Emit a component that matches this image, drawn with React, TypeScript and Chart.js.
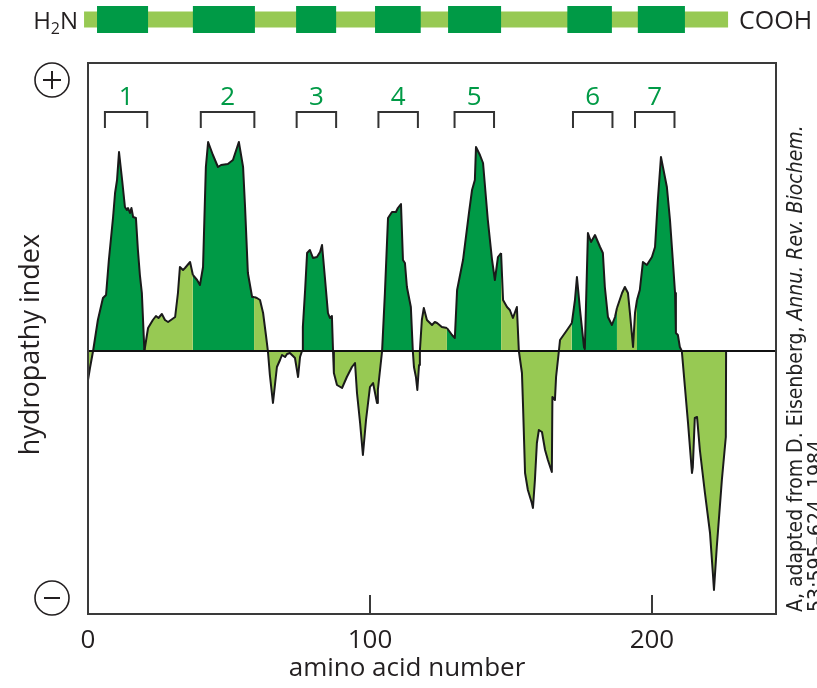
import React, { useEffect, useRef } from 'react';
import { Chart, registerables } from 'chart.js';

Chart.register(...registerables);

// ---- data ----
const residue = [
  0.0, 0.7, 1.8, 3.5, 5.3, 6.4, 7.4, 8.9, 9.6, 10.3,
  11.0, 12.1, 13.1, 13.8, 14.2, 14.9, 15.4, 16.0, 17.0, 17.7,
  18.4, 19.1, 20.0, 21.3, 23.0, 24.1, 25.0, 26.2, 27.3, 28.4,
  30.9, 31.9, 32.6, 33.7, 34.4, 36.2, 37.2, 38.7, 39.7, 40.8,
  41.8, 42.6, 44.3, 46.1, 47.2, 49.6, 51.4, 53.5, 55.0, 55.7,
  56.7, 58.2, 58.9, 59.9, 61.0, 62.1, 63.1, 63.8, 64.5, 65.6,
  66.3, 67.0, 68.1, 68.8, 69.9, 70.6, 71.6, 72.7, 73.4, 74.5,
  75.2, 75.9, 76.2, 77.0, 77.7, 78.7, 79.8, 81.2, 82.3, 83.0,
  84.0, 85.1, 85.8, 86.5, 86.9, 87.2, 88.3, 90.1, 91.8, 93.6,
  94.7, 95.4, 96.5, 97.5, 98.6, 100.0, 101.1, 102.5, 102.8, 104.3,
  105.3, 106.4, 107.8, 109.2, 109.9, 111.0, 111.7, 112.4, 113.1, 114.5,
  115.2, 115.6, 116.3, 116.8, 117.4, 117.7, 118.4, 119.1, 120.2, 122.0,
  123.0, 123.8, 125.5, 127.3, 129.1, 130.1, 130.9, 133.0, 135.1, 136.2,
  137.2, 137.6, 139.0, 140.1, 141.8, 143.3, 144.3, 145.4, 146.5, 147.2,
  148.6, 149.6, 150.7, 152.1, 152.8, 153.9, 154.3, 155.0, 156.0, 157.4,
  157.8, 158.5, 159.2, 159.9, 161.0, 162.1, 163.1, 164.5, 164.7, 165.6,
  166.0, 167.0, 167.4, 169.9, 171.6, 172.7, 173.4, 174.5, 175.9, 176.2,
  177.3, 178.4, 179.8, 181.6, 182.6, 183.3, 184.4, 185.8, 186.9, 187.6,
  189.4, 190.4, 191.5, 192.2, 193.3, 194.0, 194.7, 195.7, 196.8, 198.2,
  200.0, 201.1, 202.1, 203.2, 203.9, 205.3, 206.4, 207.4, 208.2, 208.5,
  209.2, 209.9, 210.6, 211.7, 212.8, 214.2, 214.5, 215.2, 216.0, 217.0,
  218.8, 220.6, 221.6, 222.0, 223.0, 224.8, 226.2, 226.3,
];

const hydropathy = [
  -0.29, -0.17, 0, 0.31, 0.53, 0.56, 0.91, 1.34, 1.58, 1.71,
  1.99, 1.71, 1.44, 1.41, 1.43, 1.38, 1.43, 1.34, 1.33, 1.01,
  0.76, 0.58, 0, 0.23, 0.31, 0.35, 0.33, 0.37, 0.31, 0.29,
  0.34, 0.58, 0.84, 0.81, 0.83, 0.89, 0.76, 0.71, 0.66, 0.84,
  1.84, 2.09, 1.96, 1.84, 1.86, 1.87, 1.91, 2.09, 1.84, 1.44,
  0.78, 0.54, 0.54, 0.53, 0.51, 0.38, 0.16, 0, -0.24, -0.52,
  -0.34, -0.16, -0.09, -0.04, -0.06, -0.03, -0.02, -0.05, -0.07, -0.26,
  -0.06, 0, 0.24, 0.61, 0.98, 1.01, 0.93, 0.94, 0.99, 1.06,
  0.74, 0.38, 0.33, 0.35, 0, -0.22, -0.34, -0.37, -0.26, -0.16,
  -0.12, -0.42, -0.72, -1.04, -0.69, -0.36, -0.32, -0.52, -0.39, 0,
  0.58, 1.33, 1.39, 1.39, 1.43, 1.47, 0.91, 0.88, 0.64, 0.44,
  0, -0.16, -0.26, -0.39, -0.14, 0, 0.31, 0.43, 0.31, 0.26,
  0.29, 0.28, 0.24, 0.23, 0.16, 0.13, 0.61, 0.91, 1.38, 1.61,
  1.71, 2.04, 1.96, 1.88, 1.31, 0.91, 0.71, 0.94, 0.98, 0.51,
  0.44, 0.41, 0.33, 0.44, 0, -0.22, -0.56, -1.22, -1.39, -1.52,
  -1.57, -1.29, -0.92, -0.79, -0.81, -0.99, -1.09, -1.21, -0.46, -0.49,
  -0.26, 0, 0.11, 0.21, 0.28, 0.51, 0.74, 0.41, 0.04, 0.02,
  1.18, 1.09, 1.16, 1.04, 0.98, 0.64, 0.34, 0.26, 0.34, 0.43,
  0.58, 0.64, 0.58, 0.38, 0.04, 0.38, 0.51, 0.61, 0.89, 0.86,
  0.94, 1.04, 1.51, 1.94, 1.84, 1.64, 1.31, 0.91, 0.58, 0.18,
  0.16, 0.04, 0, -0.36, -0.72, -1.22, -1.16, -0.67, -0.66, -0.99,
  -1.42, -1.82, -2.22, -2.39, -1.96, -1.29, -0.86, 0,
];

const xTickValues = [0, 100, 200];
const xMin = 0;
const xMax = 244;
const yMin = -2.63;
const yMax = 2.88;

const segmentLabels = ['1', '2', '3', '4', '5', '6', '7'];
const bracketStart = [6, 40, 74, 103, 130, 172, 194];
const bracketEnd = [21, 59, 88, 117, 144, 186, 208];

const helixFillStart = [1.8, 37.2, 75.9, 104.3, 127.3, 171.6, 194.7];
const helixFillEnd = [20.0, 58.9, 86.9, 115.2, 146.5, 187.6, 210.6];

const helixBoxStart = [3.2, 37.2, 73.8, 101.8, 127.7, 170.0, 195.0];
const helixBoxEnd = [21.3, 59.2, 88.0, 118.0, 146.5, 185.8, 211.7];
const chainStart = -1.4;
const chainEnd = 227;

const xTitle = 'amino acid number';
const yTitle = 'hydropathy index';
const citeRegular = 'A, adapted from D. Eisenberg, ';
const citeItalic = 'Annu. Rev. Biochem.';
const citeLine2 = '53:595–624, 1984.';

// ---- styles ----
const DARK = '#009a46';
const LIGHT = '#97c953';
const INK = '#231f20';
const FONT = '"Open Sans", "Noto Sans", sans-serif';
const CITE_FONT = '"Liberation Sans Narrow", "DejaVu Sans Condensed", "Liberation Sans", sans-serif';

const inHelix = (a: number, b: number) =>
  helixFillStart.some((s, i) => a >= s - 1e-6 && b <= helixFillEnd[i] + 1e-6);

const decorPlugin = {
  id: 'decor',
  afterDatasetsDraw(chart: any) {
    const { ctx, chartArea: a, scales } = chart;
    const x = scales.x;
    const y = scales.y;
    ctx.save();
    // zero line
    const y0 = y.getPixelForValue(0);
    ctx.strokeStyle = '#111';
    ctx.lineWidth = 2;
    ctx.beginPath();
    ctx.moveTo(a.left, y0);
    ctx.lineTo(a.right, y0);
    ctx.stroke();
    // frame
    ctx.strokeStyle = '#3a3a3a';
    ctx.lineWidth = 2;
    ctx.strokeRect(a.left, a.top, a.right - a.left, a.bottom - a.top);
    // inward ticks
    xTickValues.forEach((v) => {
      if (v === xMin) return;
      const px = Math.round(x.getPixelForValue(v));
      ctx.beginPath();
      ctx.moveTo(px, a.bottom);
      ctx.lineTo(px, a.bottom - 19);
      ctx.stroke();
    });
    // brackets + labels
    ctx.strokeStyle = '#333';
    ctx.lineWidth = 2;
    ctx.font = `26px ${FONT}`;
    ctx.textAlign = 'center';
    ctx.textBaseline = 'alphabetic';
    ctx.fillStyle = DARK;
    bracketStart.forEach((s, i) => {
      const x1 = x.getPixelForValue(s);
      const x2 = x.getPixelForValue(bracketEnd[i]);
      const yt = a.top + 49;
      const yb = a.top + 65;
      ctx.beginPath();
      ctx.moveTo(x1, yb);
      ctx.lineTo(x1, yt);
      ctx.lineTo(x2, yt);
      ctx.lineTo(x2, yb);
      ctx.stroke();
      ctx.fillText(segmentLabels[i], (x1 + x2) / 2, a.top + 42);
    });
    ctx.restore();
  },
  afterDraw(chart: any) {
    const { ctx, chartArea: a, scales } = chart;
    const x = scales.x;
    ctx.save();
    // top chain bar
    const cy = 19.5;
    const cs = x.getPixelForValue(chainStart);
    const ce = x.getPixelForValue(chainEnd);
    ctx.fillStyle = LIGHT;
    ctx.fillRect(cs, cy - 8, ce - cs, 16);
    ctx.fillStyle = DARK;
    helixBoxStart.forEach((s, i) => {
      const x1 = x.getPixelForValue(s);
      const x2 = x.getPixelForValue(helixBoxEnd[i]);
      ctx.fillRect(x1, cy - 13.5, x2 - x1, 27);
    });
    // H2N / COOH
    ctx.fillStyle = INK;
    ctx.textBaseline = 'alphabetic';
    ctx.textAlign = 'left';
    ctx.font = `24px ${FONT}`;
    const hw = ctx.measureText('H').width;
    const nw = ctx.measureText('N').width;
    ctx.font = `16px ${FONT}`;
    const tw = ctx.measureText('2').width;
    const sx = cs - 6 - (hw + tw + nw);
    ctx.font = `24px ${FONT}`;
    ctx.fillText('H', sx, 29);
    ctx.font = `16px ${FONT}`;
    ctx.fillText('2', sx + hw, 34);
    ctx.font = `24px ${FONT}`;
    ctx.fillText('N', sx + hw + tw, 29);
    ctx.font = `25px ${FONT}`;
    ctx.fillText('COOH', ce + 11, 29);

    // +/- circles
    ctx.strokeStyle = INK;
    ctx.lineWidth = 1.6;
    const cx = 52;
    const pc = a.top + 17;
    const mc = a.bottom - 16;
    [pc, mc].forEach((yy) => {
      ctx.beginPath();
      ctx.arc(cx, yy, 17, 0, Math.PI * 2);
      ctx.stroke();
    });
    ctx.lineWidth = 2;
    ctx.beginPath();
    ctx.moveTo(cx - 9, pc);
    ctx.lineTo(cx + 9, pc);
    ctx.moveTo(cx, pc - 9);
    ctx.lineTo(cx, pc + 9);
    ctx.moveTo(cx - 8, mc);
    ctx.lineTo(cx + 8, mc);
    ctx.stroke();

    // axis titles
    ctx.fillStyle = INK;
    ctx.font = `26px ${FONT}`;
    ctx.textAlign = 'center';
    ctx.fillText(xTitle, 407, a.bottom + 62);
    ctx.save();
    ctx.translate(39, (a.top + a.bottom) / 2 + 6);
    ctx.rotate(-Math.PI / 2);
    ctx.font = `27px ${FONT}`;
    ctx.fillText(yTitle, 0, 0);
    ctx.restore();

    // citation (rotated)
    const base = 20;
    ctx.font = `${base}px ${CITE_FONT}`;
    const w1 = ctx.measureText(citeRegular).width;
    ctx.font = `italic ${base}px ${CITE_FONT}`;
    const w2 = ctx.measureText(citeItalic).width;
    const size = (base * 487) / (w1 + w2);
    ctx.fillStyle = '#222';
    ctx.textAlign = 'left';
    ctx.save();
    ctx.translate(a.right + 26, a.bottom - 2);
    ctx.rotate(-Math.PI / 2);
    ctx.font = `${size}px ${CITE_FONT}`;
    ctx.fillText(citeRegular, 0, 0);
    const r1 = ctx.measureText(citeRegular).width;
    ctx.font = `italic ${size}px ${CITE_FONT}`;
    ctx.fillText(citeItalic, r1, 0);
    ctx.font = `${size}px ${CITE_FONT}`;
    ctx.fillText(citeLine2, 0, 21);
    ctx.restore();

    ctx.restore();
  },
};

export default function App() {
  const ref = useRef<HTMLCanvasElement | null>(null);

  useEffect(() => {
    if (!ref.current) return;
    const points = residue.map((r, i) => ({ x: r, y: hydropathy[i] }));
    const chart = new Chart(ref.current, {
      type: 'line',
      data: {
        datasets: [
          {
            data: points,
            borderColor: '#1a1a1a',
            borderWidth: 2,
            borderJoinStyle: 'round',
            backgroundColor: LIGHT,
            fill: 'origin',
            pointRadius: 0,
            tension: 0,
            segment: {
              backgroundColor: (c: any) => {
                const p0 = c.p0.parsed;
                const p1 = c.p1.parsed;
                if (p0.y >= 0 && p1.y >= 0 && inHelix(p0.x, p1.x)) return DARK;
                return undefined;
              },
            },
          },
        ],
      },
      options: {
        responsive: false,
        animation: false,
        events: [],
        layout: { padding: { top: 63, right: 41, left: 0, bottom: 0 } },
        plugins: { legend: { display: false }, tooltip: { enabled: false } },
        scales: {
          x: {
            type: 'linear',
            min: xMin,
            max: xMax,
            grid: { display: false },
            border: { display: false },
            ticks: {
              font: { family: FONT, size: 26 },
              color: INK,
              padding: 3,
              maxRotation: 0,
            },
            afterBuildTicks: (scale: any) => {
              scale.ticks = xTickValues.map((v) => ({ value: v }));
            },
            afterFit: (scale: any) => {
              scale.height = 74;
            },
          },
          y: {
            type: 'linear',
            min: yMin,
            max: yMax,
            grid: { display: false },
            border: { display: false },
            ticks: { display: false },
            afterFit: (scale: any) => {
              scale.width = 88;
            },
          },
        },
      },
      plugins: [decorPlugin],
    } as any);
    return () => chart.destroy();
  }, []);

  return (
    <div style={{ position: 'fixed', left: 0, top: 0, width: 817, height: 688, background: '#fff' }}>
      <canvas ref={ref} width={817} height={688} style={{ display: 'block' }} />
    </div>
  );
}
